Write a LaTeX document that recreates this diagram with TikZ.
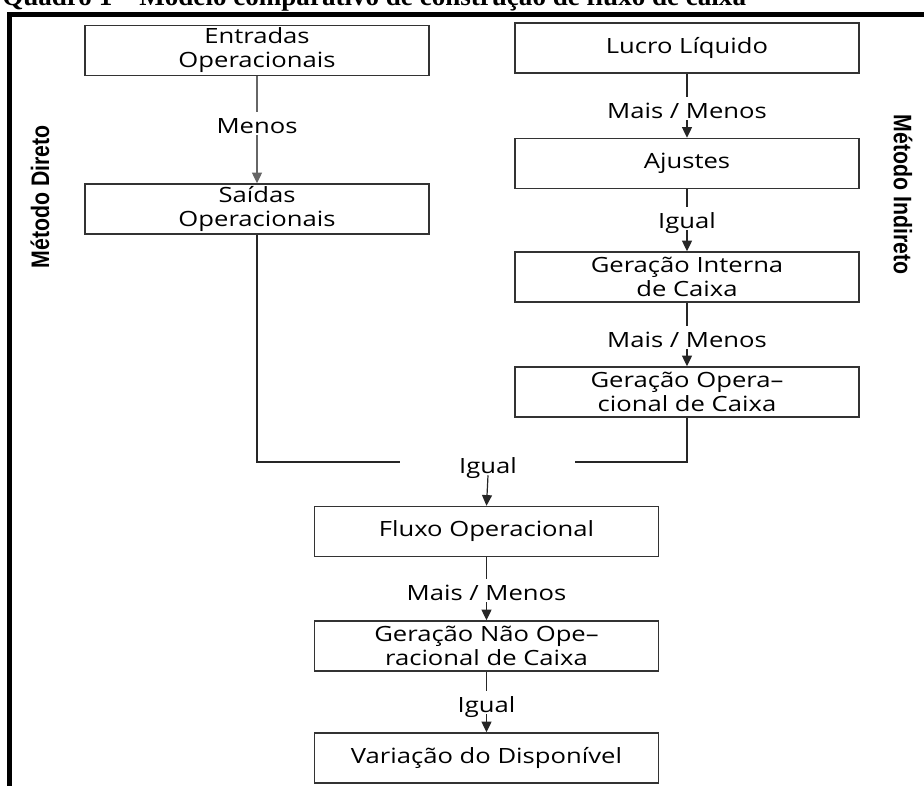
\documentclass[tikz,border=0pt]{standalone}
\usepackage{fontspec}
\setmainfont{Open Sans}[FakeStretch=1.22]
\newfontfamily\sidefont{Liberation Sans}[FakeStretch=0.84]
\newfontfamily\titlefont{Liberation Serif}
\usetikzlibrary{arrows.meta}
\newcommand{\boxfont}{\fontsize{15.75pt}{18pt}\selectfont}
\tikzset{
  box/.style={draw=black!80, line width=1.1pt, minimum width=258pt, minimum height=37.5pt,
    align=center, inner sep=0pt, font=\boxfont, text=black},
  lbl/.style={inner sep=0pt, text height=15.75pt, text depth=1.5pt, font=\boxfont, text=black, anchor=base},
  conn/.style={line width=0.9pt, draw=black!85},
  arr/.style={conn, -{Triangle[width=7.5pt,length=8pt]}},
  side/.style={font=\sidefont\bfseries\fontsize{19pt}{22pt}\selectfont, inner sep=0pt}
}
\begin{document}
\begin{tikzpicture}[x=0.75pt,y=-0.75pt]
\useasboundingbox (0,0) rectangle (924,785);
% title (partly cut at the top, as in the reference) and frame
\node[anchor=base west, inner sep=0pt, font=\titlefont\bfseries\fontsize{20.3pt}{22pt}\selectfont] (title) at (2,6)
  {Quadro 1 – Modelo comparativo de construção de fluxo de caixa};
\draw[line width=3.5pt] (9.35,786) -- (9.35,14.35) -- (925,14.35);
% side labels
\node[side, rotate=90] (mdir) at (40,197) {Método Direto};
\node[side, rotate=-90] (mind) at (903,194.5) {Método Indireto};
% boxes
\node[box] (ent) at (257,50.5) {Entradas\\Operacionais};
\node[box] (sai) at (257,209) {Saídas\\Operacionais};
\node[box] (luc) at (687,48) {Lucro Líquido};
\node[box] (aju) at (687,163.5) {Ajustes};
\node[box] (gin) at (687,277) {Geração Interna\\de Caixa};
\node[box] (gop) at (687,392) {Geração Opera–\\cional de Caixa};
\node[box] (flu) at (486.5,531.5) {Fluxo Operacional};
\node[box] (gno) at (486.5,646) {Geração Não Ope–\\racional de Caixa};
\node[box] (var) at (486.5,758) {Variação do Disponível};
% labels
\node[lbl] (l1) at (257,133) {Menos};
\node[lbl] (l2) at (687,118) {Mais / Menos};
\node[lbl] (l3) at (687,228) {Igual};
\node[lbl] (l4) at (687,347) {Mais / Menos};
\node[lbl] (l5) at (488,473) {Igual};
\node[lbl] (l6) at (486.5,600) {Mais / Menos};
\node[lbl] (l7) at (486.5,712) {Igual};
\coordinate (mL) at (400,462);
\coordinate (mR) at (575,462);
% connectors
\draw[conn, draw=black!60] (ent.south) -- (l1.north);
\draw[arr, draw=black!60, fill=black!60] (l1.south) -- (sai.north);
\draw[conn] (luc.south) -- (l2.north);
\draw[arr] (l2.south) -- (aju.north);
\draw[conn] (aju.south) -- (l3.north);
\draw[arr] (l3.south) -- (gin.north);
\draw[conn] (gin.south) -- (l4.north);
\draw[arr] (l4.south) -- (gop.north);
\draw[conn] (sai.south) |- (mL);
\draw[conn] (gop.south) |- (mR);
\draw[arr] (l5.south) -- (flu.north);
\draw[conn] (flu.south) -- (l6.north);
\draw[arr] (l6.south) -- (gno.north);
\draw[conn] (gno.south) -- (l7.north);
\draw[arr] (l7.south) -- (var.north);
\end{tikzpicture}
\end{document}
